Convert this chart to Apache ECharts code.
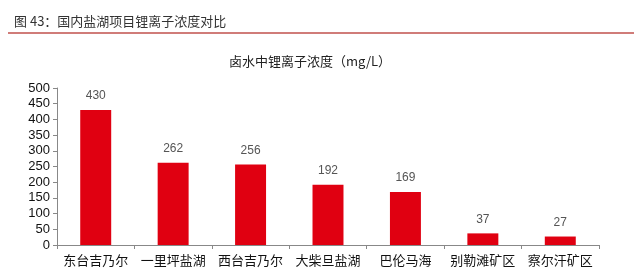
<!DOCTYPE html>
<html><head><meta charset="utf-8">
<script src="https://cdn.jsdelivr.net/npm/echarts@6/dist/echarts.min.js"></script>
<style>html,body{margin:0;padding:0;background:#fff}#c{width:634px;height:272px}</style>
</head><body><div id="c"></div>
<script>
const categories = ['东台吉乃尔','一里坪盐湖','西台吉乃尔','大柴旦盐湖','巴伦马海','别勒滩矿区','察尔汗矿区'];
const values = [430, 262, 256, 192, 169, 37, 27];
const yTicks = [0, 50, 100, 150, 200, 250, 300, 350, 400, 450, 500];
const figTitle = '图 43：国内盐湖项目锂离子浓度对比';
const chartTitle = '卤水中锂离子浓度（mg/L）';

const chart = echarts.init(document.getElementById('c'), null, {renderer: 'canvas'});
const font = '"Noto Sans CJK SC", "Liberation Sans", sans-serif';
chart.setOption({
  animation: false,
  textStyle: {fontFamily: font},
  title: [
    {text: figTitle, left: 9, top: 10, textStyle: {fontSize: 13, fontWeight: 'normal', color: '#333', fontFamily: font}},
    {text: chartTitle, left: 305, textAlign: 'center', top: 50, textStyle: {fontSize: 13, fontWeight: 'normal', color: '#222', fontFamily: font}}
  ],
  graphic: [{type: 'line', shape: {x1: 8, y1: 33, x2: 634, y2: 33}, style: {stroke: '#c0504d', lineWidth: 1.5}}],
  grid: {left: 57, right: 35, top: 88, bottom: 27, containLabel: false},
  xAxis: {
    type: 'category', data: categories,
    axisLine: {lineStyle: {color: '#888'}},
    axisTick: {show: true, alignWithLabel: false, length: 4, lineStyle: {color: '#888'}},
    axisLabel: {color: '#111', fontSize: 13, margin: 9, interval: 0, fontFamily: font}
  },
  yAxis: {
    type: 'value', min: yTicks[0], max: yTicks[yTicks.length - 1], interval: 50,
    axisLine: {show: true, lineStyle: {color: '#888'}},
    axisTick: {show: true, length: 4, lineStyle: {color: '#888'}},
    splitLine: {show: false},
    axisLabel: {color: '#111', fontSize: 13, margin: 7, fontFamily: '"Liberation Sans", Arial, sans-serif'}
  },
  series: [{
    type: 'bar', data: values, barWidth: '40%',
    itemStyle: {color: '#e00011'},
    label: {show: true, position: 'top', distance: 8, color: '#555', fontSize: 12, fontFamily: '"Liberation Sans", Arial, sans-serif'}
  }]
});
</script></body></html>
